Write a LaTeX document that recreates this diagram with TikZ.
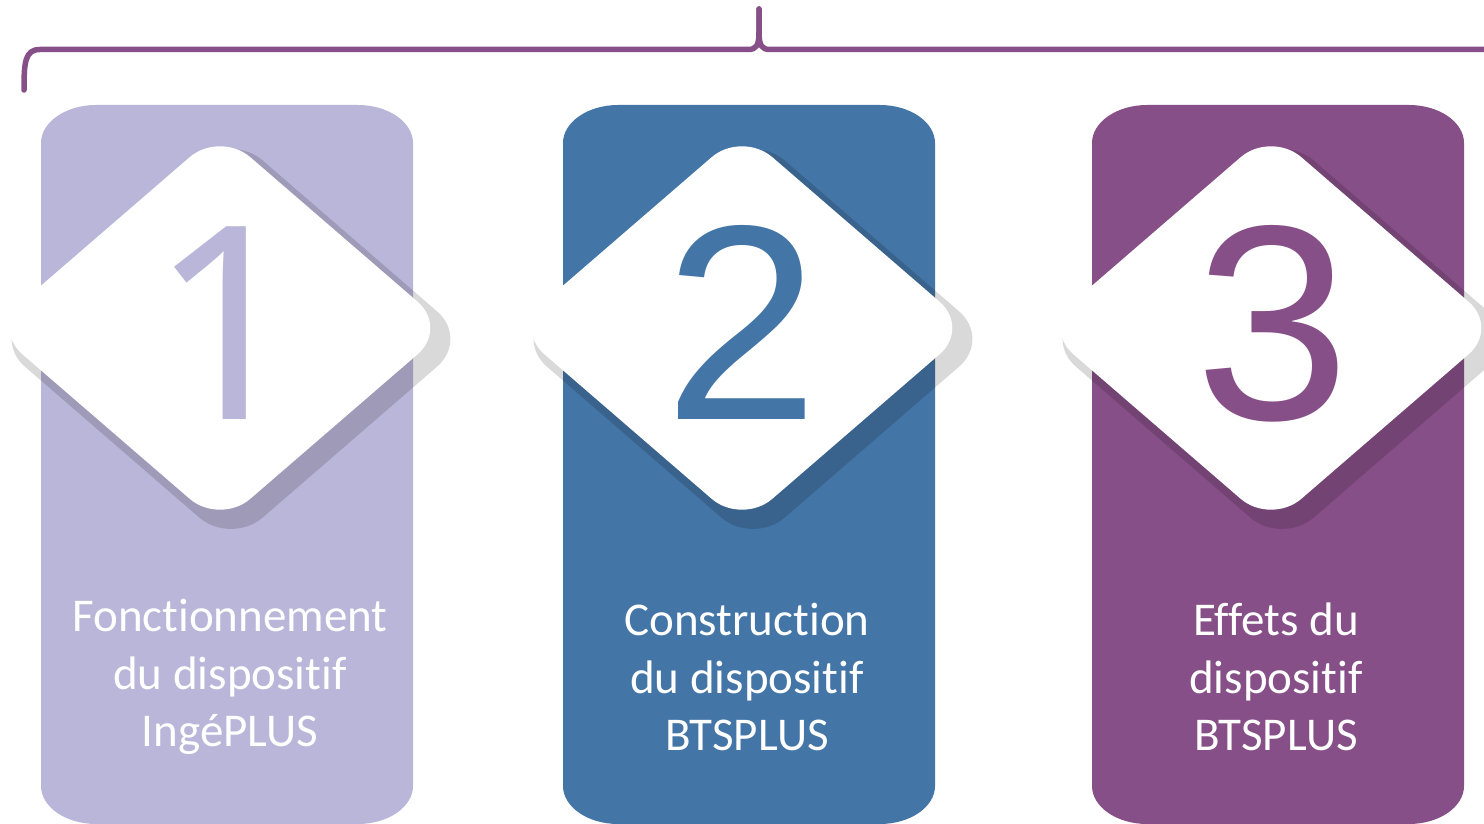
\documentclass[tikz,border=0pt]{standalone}
\usepackage{fontspec}
\newfontfamily\labelfont[Ligatures=NoCommon]{Carlito}
\newfontfamily\digitfont{Liberation Sans}
\newfontfamily\digitonefont{Noto Sans}
\definecolor{lav}{HTML}{BAB6D9}
\definecolor{steel}{HTML}{4375A6}
\definecolor{plum}{HTML}{874F88}
\tikzset{
  digitstyle/.style={anchor=base, inner sep=0pt},
  labelstyle/.style={font=\labelfont\fontsize{47}{57.5}\selectfont, text=white, align=center, inner sep=0pt},
  shadowfill/.style={fill=black, fill opacity=0.15, rounded corners=42pt},
  diamondfill/.style={fill=white, rounded corners=40pt},
  bracestyle/.style={draw=plum, line width=5.5pt, line cap=round, line join=round},
}
% #1 left x, #2 right x, #3 diamond centre x, #4 colour, #5 digit, #6 label, #7 label x, #8 digit font, #9 digit x
\newcommand\drawpanel[9]{%
  \fill[#4] (#1,143) .. controls (#1,122) and ({#1+25},105) .. ({#1+55},105)
    -- ({#2-55},105) .. controls ({#2-25},105) and (#2,122) .. (#2,143)
    -- (#2,786) .. controls (#2,807) and ({#2-25},824) .. ({#2-55},824)
    -- ({#1+55},824) .. controls ({#1+25},824) and (#1,807) .. (#1,786) -- cycle;
  \fill[shadowfill] ({#3+11-119},236) -- ({#3+11},133) -- ({#3+249},339)
    -- ({#3+11},545) -- ({#3-227},339) -- cycle;
  \fill[diamondfill] ({#3-114},229.5) -- (#3,131) -- ({#3+228},328)
    -- (#3,525) -- ({#3-228},328) -- cycle;
  \node[digitstyle, text=#4, font=#8] (digit#5) at (#9,419.5) {#5};
  \node[labelstyle] (label#5) at (#7,677) {#6};
}
\begin{document}
\begin{tikzpicture}[x=1pt, y=-1pt]
  \useasboundingbox (0,0) rectangle (1484,824);
  \fill[white] (0,0) rectangle (1484,824);
  \drawpanel{41}{413}{220}{lav}{1}{Fonctionnement\\du dispositif\\IngéPLUS}{230}{\digitonefont\fontsize{270}{270}\selectfont}{228}
  \drawpanel{563}{935}{742}{steel}{2}{Construction\\du dispositif\\BTSPLUS}{747}{\digitfont\fontsize{278}{278}\selectfont}{742}
  \drawpanel{1092}{1464}{1271}{plum}{3}{Effets du\\dispositif\\BTSPLUS}{1276}{\digitfont\fontsize{278}{278}\selectfont}{1273}
  \draw[bracestyle] (24,90) .. controls (24,62) and (25,49.5) .. (40,49.5)
    -- (748,49.5) .. controls (756,49.5) and (759,46) .. (759,32) -- (759,9);
  \draw[bracestyle] (759,9) -- (759,32) .. controls (759,46) and (762,49.5) .. (770,49.5)
    -- (1495,49.5);
\end{tikzpicture}
\end{document}
